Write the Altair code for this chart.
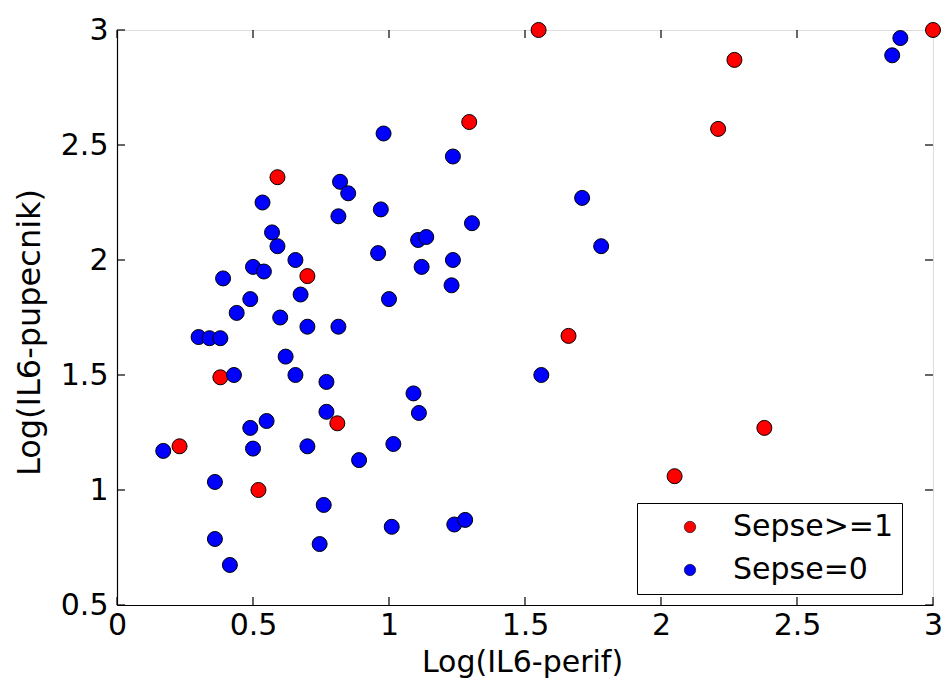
import altair as alt
import pandas as pd

# Sepse>=1 (red)
red_x = [1.55, 3.00, 2.27, 2.21, 1.295, 0.59, 0.70, 1.66, 0.38, 0.81, 2.38, 0.23, 0.52, 2.05]
red_y = [3.00, 3.00, 2.87, 2.57, 2.60, 2.36, 1.93, 1.67, 1.49, 1.29, 1.27, 1.19, 1.00, 1.06]

# Sepse=0 (blue)
blue_x = [0.535, 0.82, 0.85, 0.814, 0.97, 0.57, 0.59, 0.656, 0.96, 0.50,
          0.54, 0.39, 0.49, 0.675, 1.00, 0.44, 0.60, 0.70, 0.814, 0.30,
          0.34, 0.38, 0.62, 0.656, 0.77, 0.43, 0.55, 0.49, 0.77, 0.17,
          0.50, 0.70, 0.89, 1.016, 0.36, 0.76, 1.01, 0.36, 0.745, 0.415,
          0.98, 1.235, 1.305, 1.107, 1.137, 1.235, 1.12, 1.23, 1.09, 1.56,
          1.11, 1.24, 1.28, 2.88, 2.85, 1.71, 1.78]
blue_y = [2.25, 2.34, 2.29, 2.19, 2.22, 2.12, 2.06, 2.00, 2.03, 1.97,
          1.95, 1.92, 1.83, 1.85, 1.83, 1.77, 1.75, 1.71, 1.71, 1.665,
          1.66, 1.66, 1.58, 1.50, 1.47, 1.50, 1.30, 1.27, 1.34, 1.17,
          1.18, 1.19, 1.13, 1.20, 1.035, 0.935, 0.84, 0.787, 0.765, 0.674,
          2.55, 2.45, 2.16, 2.087, 2.10, 2.00, 1.97, 1.89, 1.42, 1.50,
          1.335, 0.85, 0.87, 2.965, 2.89, 2.27, 2.06]

groups = ["Sepse>=1", "Sepse=0"]
colors = ["#ff0000", "#0000ff"]
x_ticks = [0, 0.5, 1, 1.5, 2, 2.5, 3]
y_ticks = [0.5, 1, 1.5, 2, 2.5, 3]

df = pd.DataFrame({
    "x": red_x + blue_x,
    "y": red_y + blue_y,
    "g": [groups[0]] * len(red_x) + [groups[1]] * len(blue_x),
    "order": [0] * len(red_x) + [1] * len(blue_x),
})
xt = pd.DataFrame({"v": x_ticks})
yt = pd.DataFrame({"v": y_ticks})

FONT = "DejaVu Sans"
W, H = 816, 575
TL = 8  # inward tick length
xscale = alt.Scale(domain=[0, 3], nice=False, zero=False)
yscale = alt.Scale(domain=[0.5, 3], nice=False, zero=False)

points = alt.Chart(df).mark_circle(size=225, stroke="black", strokeWidth=1, opacity=1).encode(
    x=alt.X("x:Q", scale=xscale,
            axis=alt.Axis(values=x_ticks, format="~g", title="Log(IL6-perif)", ticks=False, tickSize=0,
                          domain=True, domainColor="black", domainWidth=1.2, grid=False,
                          labelPadding=29, labelBaseline="alphabetic",
                          labelFlush=False, labelOverlap=False, labelBound=False,
                          labelFont=FONT, labelFontSize=30, labelColor="black",
                          titleFont=FONT, titleFontSize=30, titleFontWeight="normal", titleColor="black",
                          titleBaseline="alphabetic", titleY=66, titleX=405, titleAlign="center")),
    y=alt.Y("y:Q", scale=yscale,
            axis=alt.Axis(values=y_ticks, format="~g", title="Log(IL6-pupecnik)", ticks=False, tickSize=0,
                          domain=True, domainColor="black", domainWidth=1.2, grid=False,
                          labelPadding=9, labelBaseline="middle",
                          labelFlush=False, labelOverlap=False, labelBound=False,
                          labelFont=FONT, labelFontSize=30, labelColor="black",
                          titleFont=FONT, titleFontSize=32, titleFontWeight="normal", titleColor="black",
                          titleBaseline="middle", titleX=-88, titleY=302, titleAlign="center", titleAngle=-90)),
    color=alt.Color("g:N", scale=alt.Scale(domain=groups, range=colors),
                    legend=alt.Legend(title=None, orient="none", legendX=520, legendY=473,
                                      strokeColor="black", fillColor="white", padding=9,
                                      symbolType="circle", symbolSize=130, symbolOffset=29,
                                      symbolStrokeColor="black", symbolStrokeWidth=0.6,
                                      labelOffset=28, labelFont=FONT, labelFontSize=30,
                                      labelColor="black", rowPadding=13, labelLimit=400)),
    order=alt.Order("order:Q"),
)

rule_style = dict(color="black", strokeWidth=1.2)
bottom_ticks = alt.Chart(xt).mark_rule(**rule_style).encode(
    x=alt.X("v:Q", scale=xscale), y=alt.value(H), y2=alt.value(H - TL))
top_ticks = alt.Chart(xt).mark_rule(**rule_style).encode(
    x=alt.X("v:Q", scale=xscale), y=alt.value(0), y2=alt.value(TL))
left_ticks = alt.Chart(yt).mark_rule(**rule_style).encode(
    y=alt.Y("v:Q", scale=yscale), x=alt.value(0), x2=alt.value(TL))
right_ticks = alt.Chart(yt).mark_rule(**rule_style).encode(
    y=alt.Y("v:Q", scale=yscale), x=alt.value(W), x2=alt.value(W - TL))

chart = alt.layer(bottom_ticks, top_ticks, left_ticks, right_ticks, points).properties(
    width=W, height=H,
    autosize=alt.AutoSizeParams(type="none"),
    padding={"left": 117, "top": 30, "right": 13, "bottom": 77},
).configure_view(stroke="black", strokeWidth=1.2).configure(background="white")

chart.save("out.html", embed_options={"renderer": "svg", "actions": False})
